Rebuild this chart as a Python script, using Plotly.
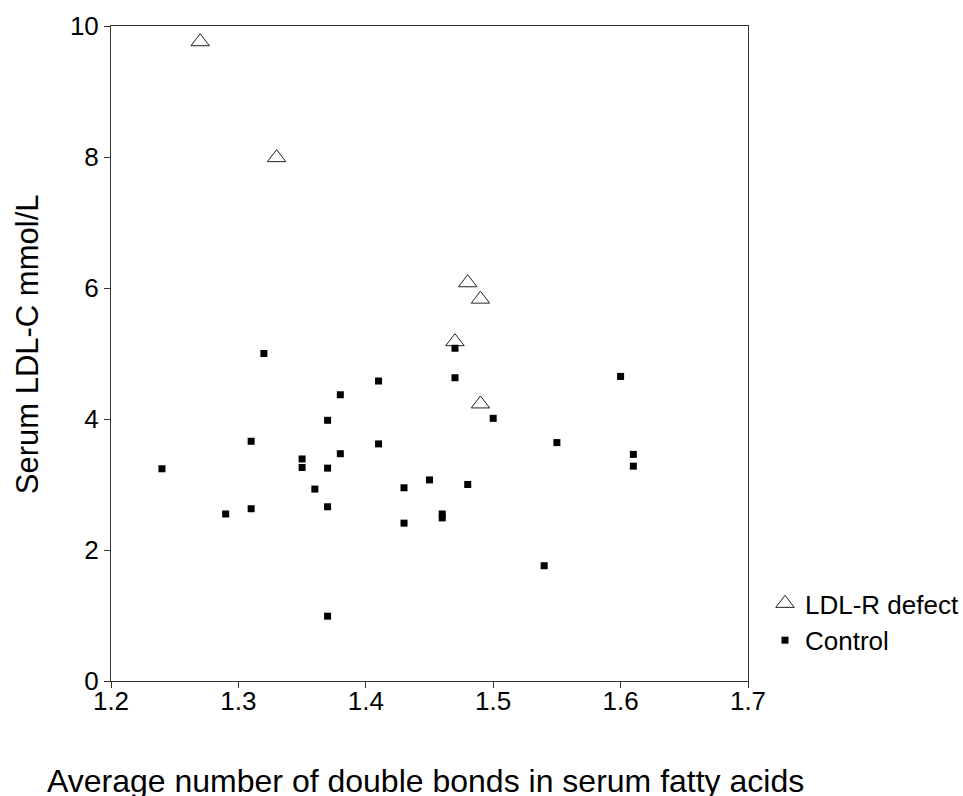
import plotly.graph_objects as go

# LDL-R defect group
ldlr_x = [1.27, 1.33, 1.48, 1.49, 1.47, 1.49]
ldlr_y = [9.76, 7.99, 6.08, 5.83, 5.18, 4.23]

# Control group
ctrl_x = [1.24, 1.29, 1.31, 1.31, 1.32, 1.35, 1.35, 1.36, 1.37, 1.37,
          1.37, 1.37, 1.38, 1.38, 1.41, 1.41, 1.43, 1.43, 1.45, 1.46,
          1.46, 1.47, 1.47, 1.48, 1.50, 1.54, 1.55, 1.60, 1.61, 1.61]
ctrl_y = [3.24, 2.55, 2.63, 3.66, 5.00, 3.39, 3.26, 2.93, 3.98, 3.25,
          2.66, 0.99, 4.37, 3.47, 4.58, 3.62, 2.95, 2.41, 3.07, 2.55,
          2.49, 5.08, 4.63, 3.00, 4.01, 1.76, 3.64, 4.65, 3.46, 3.28]

x_ticks = [1.2, 1.3, 1.4, 1.5, 1.6, 1.7]
x_tick_labels = ["1.2", "1.3", "1.4", "1.5", "1.6", "1.7"]
y_ticks = [0, 2, 4, 6, 8, 10]

FONT = "Liberation Sans, Arial, Helvetica, sans-serif"

fig = go.Figure()
fig.add_trace(go.Scatter(
    x=ldlr_x, y=ldlr_y, mode="markers", name="LDL-R defect",
    legendgroup="a", legendrank=1,
    marker=dict(symbol="triangle-up-open", size=16, color="#222",
                line=dict(width=1, color="#222")),
))
fig.add_trace(go.Scatter(
    x=ctrl_x, y=ctrl_y, mode="markers", name="Control",
    legendgroup="b", legendrank=2,
    marker=dict(symbol="square", size=7, color="black",
                line=dict(width=0)),
))

axis_common = dict(
    showgrid=False, zeroline=False, showline=True, mirror=True,
    linecolor="#333", linewidth=1, ticks="outside", ticklen=6,
    tickcolor="#333", tickwidth=1, automargin=False,
    tickfont=dict(family=FONT, size=26, color="black"),
)
fig.update_xaxes(range=[1.2, 1.7], tickvals=x_ticks, ticktext=x_tick_labels,
                 ticklabelstandoff=-9, **axis_common)
fig.update_yaxes(range=[0, 10], tickvals=y_ticks, **axis_common)

fig.add_annotation(text="Average number of double bonds in serum fatty acids",
                   xref="paper", yref="paper", x=0.4945, y=-0.152,
                   xanchor="center", yanchor="middle", showarrow=False,
                   font=dict(family=FONT, size=32, color="black"))
fig.add_annotation(text="Serum LDL-C mmol/L", textangle=-90,
                   xref="paper", yref="paper", x=-0.132, y=0.514,
                   xanchor="center", yanchor="middle", showarrow=False,
                   font=dict(family=FONT, size=31, color="black"))

fig.update_layout(
    width=963, height=796,
    margin=dict(l=111, r=215, t=26, b=115),
    paper_bgcolor="white", plot_bgcolor="white",
    showlegend=True,
    legend=dict(xref="container", yref="container",
                x=0.7944, y=0.2714, xanchor="left", yanchor="top",
                font=dict(family=FONT, size=26, color="black"),
                traceorder="grouped", tracegroupgap=0,
                borderwidth=0, bgcolor="rgba(0,0,0,0)"),
)

fig.write_html("out.html",
               config={"displayModeBar": False},
               post_script="document.body.style.margin='0';"
                           "document.body.style.overflow='hidden';")
